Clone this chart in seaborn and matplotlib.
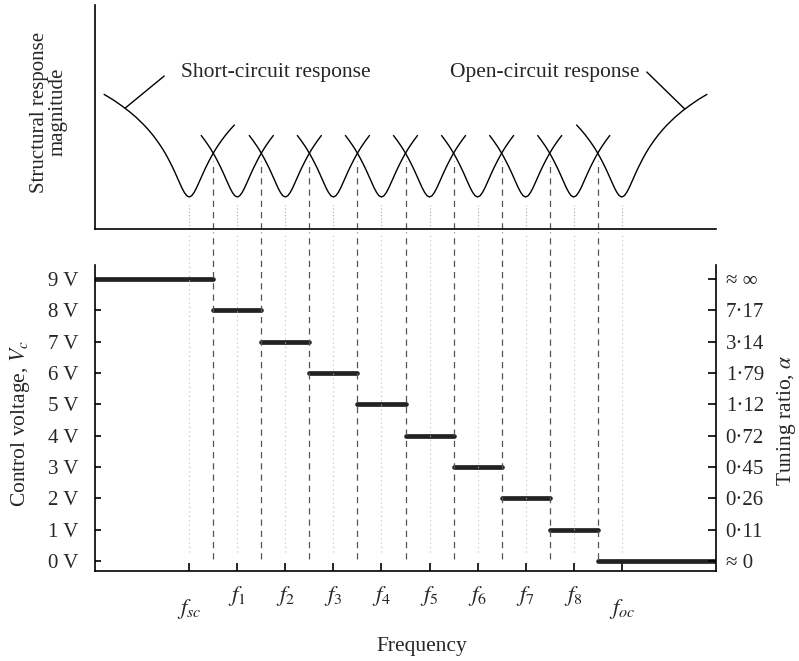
import numpy as np
import pandas as pd
import matplotlib
matplotlib.use("Agg")
import matplotlib.pyplot as plt
import seaborn as sns

sns.set_theme(style="white")
plt.rcParams['font.family'] = ['Liberation Serif', 'DejaVu Serif']
plt.rcParams['mathtext.fontset'] = 'stix'

# ---------------- data ----------------
freq_labels = [r'$f_{sc}$', r'$f_1$', r'$f_2$', r'$f_3$', r'$f_4$', r'$f_5$',
               r'$f_6$', r'$f_7$', r'$f_8$', r'$f_{oc}$']
freq_pos = [0, 1, 2, 3, 4, 5, 6, 7, 8, 9]
voltages = [9, 8, 7, 6, 5, 4, 3, 2, 1, 0]
step_edges = [-1.95, 0.5, 1.5, 2.5, 3.5, 4.5, 5.5, 6.5, 7.5, 8.5, 10.95]
volt_ticks = [0, 1, 2, 3, 4, 5, 6, 7, 8, 9]
volt_labels = ['0 V', '1 V', '2 V', '3 V', '4 V', '5 V', '6 V', '7 V', '8 V', '9 V']
tuning_labels = ['\u2248 0', '0\u00b711', '0\u00b726', '0\u00b745', '0\u00b772',
                 '1\u00b712', '1\u00b779', '3\u00b714', '7\u00b717', '\u2248 \u221e']

# notch profile (offset from notch centre, height)
profile_offset = [0, 0.05, 0.1, 0.15, 0.2, 0.25, 0.3, 0.35, 0.4, 0.45, 0.5, 0.55,
                  0.6, 0.675, 0.75, 0.85, 0.94, 1.1, 1.25, 1.4, 1.6, 1.77]
profile_height = [32, 33.2, 36.4, 40.9, 46.2, 51.6, 57.0, 62.1, 66.9, 71.5, 75.8,
                  79.8, 83.5, 88.7, 93.5, 99.3, 104.0, 111.5, 117.6, 123.1, 129.7, 134.6]
notch_left = [1.77, 0.75, 0.75, 0.75, 0.75, 0.75, 0.75, 0.75, 0.75, 0.94]
notch_right = [0.94, 0.75, 0.75, 0.75, 0.75, 0.75, 0.75, 0.75, 0.75, 1.77]

# ---------------- build tables ----------------
rows = []
for i, c in enumerate(freq_pos):
    pts = []
    for o, h in zip(profile_offset, profile_height):
        if o == 0:
            pts.append((c, h))
            continue
        if o <= notch_left[i] + 1e-9:
            pts.append((c - o, h))
        if o <= notch_right[i] + 1e-9:
            pts.append((c + o, h))
    pts.sort()
    for x, h in pts:
        rows.append({'notch': i, 'x': x, 'h': h})
curves = pd.DataFrame(rows)

step_rows = []
for i, v in enumerate(voltages):
    step_rows.append({'seg': i, 'x': step_edges[i], 'v': v})
    step_rows.append({'seg': i, 'x': step_edges[i + 1], 'v': v})
steps = pd.DataFrame(step_rows)

# ---------------- figure ----------------
fig = plt.figure(figsize=(7.99, 6.61), dpi=100)
W, H = 799, 661
x0, x1 = 95, 716
ax_top = fig.add_axes([x0 / W, 1 - 229 / H, (x1 - x0) / W, 224 / H])
ax_bot = fig.add_axes([x0 / W, 1 - 571 / H, (x1 - x0) / W, 306 / H])

XLIM = (-1.96, 10.96)

# top panel
sns.lineplot(data=curves, x='x', y='h', units='notch', estimator=None,
             color='black', lw=1.0, sort=False, ax=ax_top, legend=False)
ax_top.set_xlim(*XLIM)
ax_top.set_ylim(0, 224)
ax_top.set_xticks([])
ax_top.set_yticks([])
ax_top.set_xlabel('')
ax_top.set_ylabel('')
for s in ['top', 'right']:
    ax_top.spines[s].set_visible(False)
for s in ['left', 'bottom']:
    ax_top.spines[s].set_color('black')
    ax_top.spines[s].set_linewidth(1.2)

boundaries = step_edges[1:-1]
for b in boundaries:
    ax_top.plot([b, b], [0, 68], color='#555555', lw=0.9, ls=(0, (5, 4)))
for c in freq_pos:
    ax_top.plot([c, c], [0, 24], color='#aaaaaa', lw=0.8, ls=(0, (1, 2)))

# annotations
ax_top.plot([-1.33, -0.52], [121, 153], color='black', lw=1.0)
ax_top.text(-0.17, 156, 'Short-circuit response', ha='left', va='center', fontsize=15.5)
ax_top.plot([9.52, 10.31], [157, 120], color='black', lw=1.0)
ax_top.text(9.375, 156, 'Open-circuit response', ha='right', va='center', fontsize=15.5)

# bottom panel
sns.lineplot(data=steps, x='x', y='v', units='seg', estimator=None,
             color='#222222', lw=3.4, sort=False, ax=ax_bot, legend=False)
ax_bot.set_xlim(*XLIM)
ax_bot.set_ylim(-0.32, 9.45)
ax_bot.set_xlabel('')
ax_bot.set_ylabel('')
for s in ['left', 'bottom', 'right']:
    ax_bot.spines[s].set_color('black')
    ax_bot.spines[s].set_linewidth(1.2)
ax_bot.spines['top'].set_visible(False)

for b in boundaries:
    ax_bot.plot([b, b], [0.05, 10.5], color='#555555', lw=0.9, ls=(0, (5, 4)),
                clip_on=False)
for c in freq_pos:
    ax_bot.plot([c, c], [0.3, 10.5], color='#bbbbbb', lw=0.8, ls=(0, (1, 3)),
                clip_on=False)

# x ticks: f1..f8 as major, fsc/foc as minor (set lower)
ax_bot.set_xticks(freq_pos[1:-1])
ax_bot.set_xticklabels(freq_labels[1:-1], fontsize=16.5)
ax_bot.set_xticks([freq_pos[0], freq_pos[-1]], minor=True)
ax_bot.set_xticklabels([freq_labels[0], freq_labels[-1]], minor=True, fontsize=16.5)
ax_bot.tick_params(axis='x', which='both', direction='in', length=6, width=1.2,
                   color='black', bottom=True)
ax_bot.tick_params(axis='x', which='major', pad=9)
ax_bot.tick_params(axis='x', which='minor', pad=19)

ax_bot.set_yticks(volt_ticks)
ax_bot.set_yticklabels(volt_labels, fontsize=15)
ax_bot.tick_params(axis='y', direction='in', length=4, width=1.2, color='black',
                   left=True, pad=12)

ax_r = ax_bot.twinx()
ax_r.set_ylim(ax_bot.get_ylim())
ax_r.set_yticks(volt_ticks)
ax_r.set_yticklabels(tuning_labels, fontsize=15)
ax_r.tick_params(axis='y', direction='in', length=6, width=1.2, color='black',
                 right=True, pad=7)
for s in ax_r.spines.values():
    s.set_visible(False)
ax_r.grid(False)
ax_bot.grid(False)

# axis labels
fig.text(49 / W, 1 - 112 / H, 'Structural response\nmagnitude', rotation=90,
         ha='center', va='center', fontsize=15, linespacing=1.0)
fig.text(20 / W, 1 - 424 / H, r'Control voltage, $V_c$', rotation=90,
         ha='center', va='center', fontsize=15.5)
fig.text(786 / W, 1 - 420 / H, r'Tuning ratio, $\alpha$', rotation=90,
         ha='center', va='center', fontsize=15.5)
fig.text(422 / W, 1 - 647 / H, 'Frequency', ha='center', va='center', fontsize=15.5)

fig.savefig('out.png', dpi=100)
